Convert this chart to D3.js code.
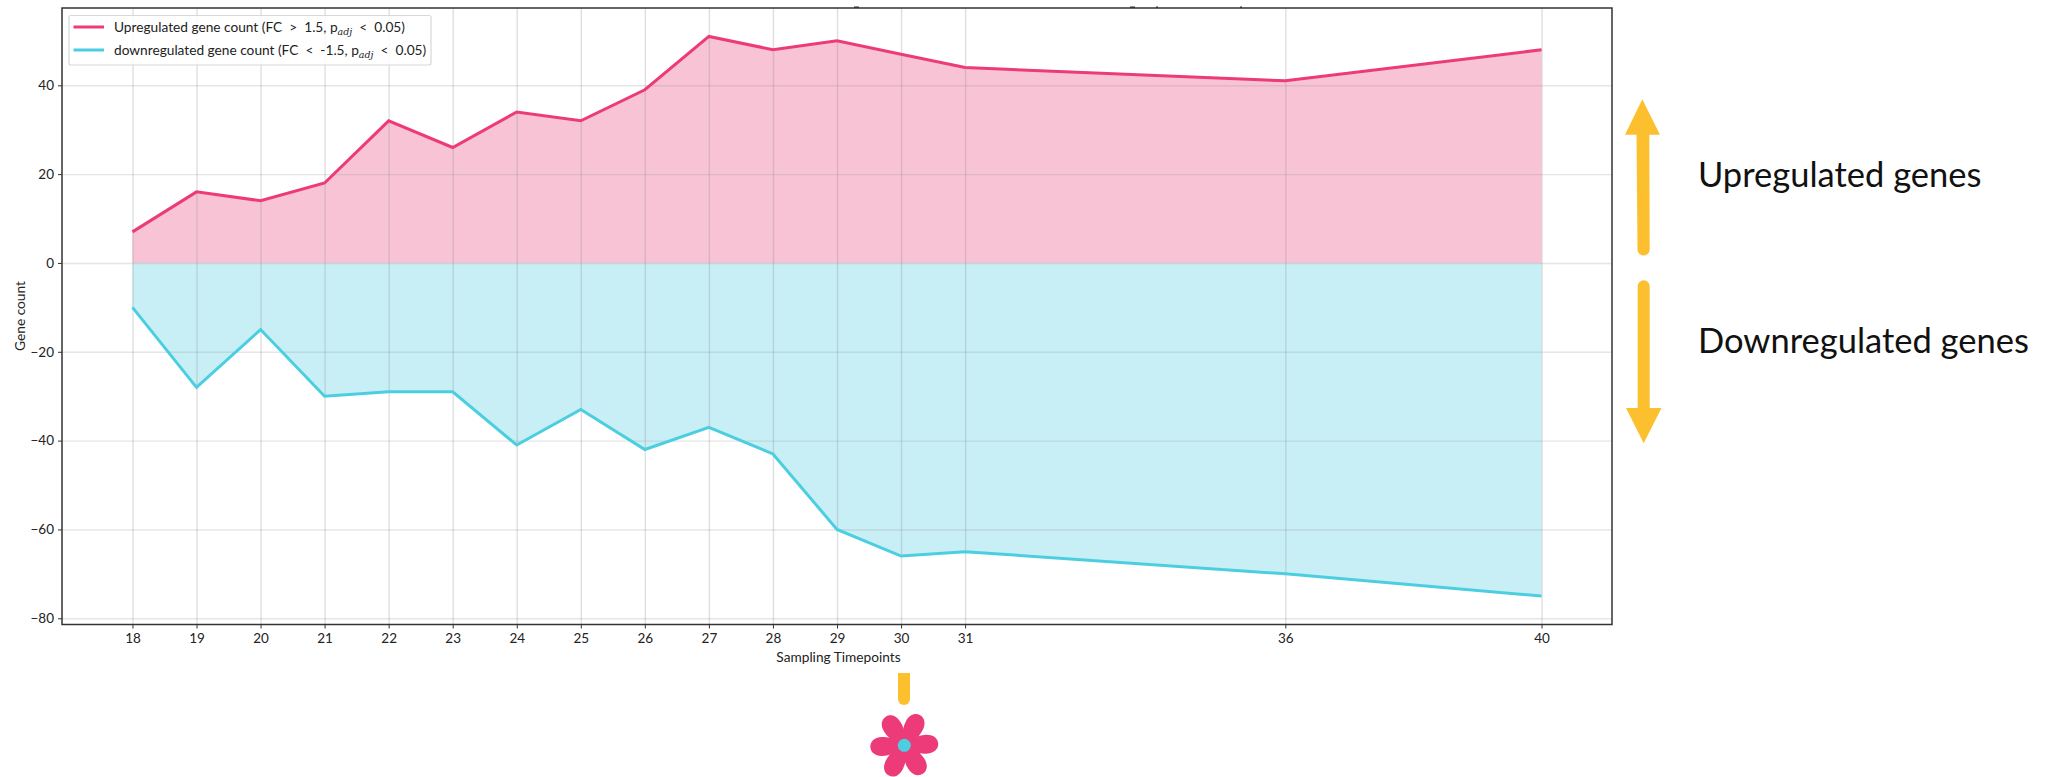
<!DOCTYPE html>
<html>
<head>
<meta charset="utf-8">
<style>
  html, body { margin: 0; padding: 0; background: #fff; }
  text { font-family: Lato, "Open Sans", sans-serif; fill: #222; }
</style>
<script src="https://d3js.org/d3.v7.min.js"></script>
</head>
<body>
<svg id="chart" width="2056" height="777"></svg>
<script>
// values
const timepoints = [18, 19, 20, 21, 22, 23, 24, 25, 26, 27, 28, 29, 30, 31, 36, 40];
const upregulated = [7, 16, 14, 18, 32, 26, 34, 32, 39, 51, 48, 50, 47, 44, 41, 48];
const downregulated = [-10, -28, -15, -30, -29, -29, -41, -33, -42, -37, -43, -60, -66, -65, -70, -75];
const yTicks = [40, 20, 0, -20, -40, -60, -80];

const pink = "#ec3b78", cyan = "#4bcfe0", amber = "#fcc02e";

const margin = {top: 8, left: 62},
    width = 1612 - 62,
    height = 624.5 - 8;

const svg = d3.select("#chart");
const g = svg.append("g").attr("transform", `translate(${margin.left}, ${margin.top})`);

const x = d3.scaleLinear().domain([16.9, 41.1]).range([0, width]);
const y = d3.scaleLinear().domain([57.4, -81.4]).range([0, height]);

// filled areas under the grid lines
const area = d3.area().x((d, i) => x(timepoints[i])).y0(y(0)).y1(d => y(d));
g.append("path").attr("d", area(upregulated)).attr("fill", "#f8c3d5");
g.append("path").attr("d", area(downregulated)).attr("fill", "#c8eff5");

// grid
g.append("g").attr("transform", `translate(0, ${height})`)
  .call(d3.axisBottom(x).tickValues(timepoints).tickSize(-height).tickFormat(""))
  .call(a => a.select(".domain").remove())
  .selectAll("line").attr("stroke", "#8c8c8c").attr("stroke-opacity", 0.28).attr("stroke-width", 1.4);
g.append("g")
  .call(d3.axisLeft(y).tickValues(yTicks).tickSize(-width).tickFormat(""))
  .call(a => a.select(".domain").remove())
  .selectAll("line").attr("stroke", "#8c8c8c").attr("stroke-opacity", 0.22).attr("stroke-width", 1.4);

// lines
const line = d3.line().x((d, i) => x(timepoints[i])).y(d => y(d));
g.append("path").attr("d", line(upregulated)).attr("fill", "none").attr("stroke", pink).attr("stroke-width", 3);
g.append("path").attr("d", line(downregulated)).attr("fill", "none").attr("stroke", cyan).attr("stroke-width", 3);

// axes
const xAxis = g.append("g").attr("transform", `translate(0, ${height})`)
  .call(d3.axisBottom(x).tickValues(timepoints).tickSize(4).tickPadding(5).tickFormat(d3.format("d")));
const yAxis = g.append("g")
  .call(d3.axisLeft(y).tickValues(yTicks).tickSize(4).tickPadding(4).tickFormat(d3.format("d")));
[xAxis, yAxis].forEach(a => {
  a.selectAll("text").attr("font-size", 13.5).style("font-family", "Lato");
  a.selectAll("line").attr("stroke", "#333");
  a.select(".domain").remove();
});
g.append("rect").attr("width", width).attr("height", height)
  .attr("fill", "none").attr("stroke", "#333").attr("stroke-width", 1.5);

// what is left of the cropped title above the frame
[[854, 5], [1130, 5], [1156, 2], [1240, 2]].forEach(m => {
  svg.append("rect").attr("x", m[0]).attr("y", 6.5).attr("width", m[1]).attr("height", 1.5).attr("fill", "#333");
});

// axis labels
svg.append("text").attr("x", 838.5).attr("y", 662).attr("text-anchor", "middle")
  .attr("font-size", 13.7).text("Sampling Timepoints");
svg.append("text").attr("transform", "translate(25, 316) rotate(-90)").attr("text-anchor", "middle")
  .attr("font-size", 13.7).text("Gene count");

// legend
const legend = svg.append("g");
legend.append("rect").attr("x", 69).attr("y", 15.5).attr("width", 362).attr("height", 49.5).attr("rx", 2)
  .attr("fill", "#fff").attr("fill-opacity", 0.8).attr("stroke", "#d8d8d8").attr("stroke-width", 1.2);
const legendRows = [
  {color: pink, y: 27, pre: "Upregulated gene count (FC  >  1.5, p", post: "  <  0.05)"},
  {color: cyan, y: 50, pre: "downregulated gene count (FC  <  -1.5, p", post: "  <  0.05)"}
];
legendRows.forEach(r => {
  legend.append("line").attr("x1", 73.5).attr("x2", 104).attr("y1", r.y).attr("y2", r.y)
    .attr("stroke", r.color).attr("stroke-width", 3);
  const t = legend.append("text").attr("x", 114).attr("y", r.y + 5).attr("font-size", 13.7)
    .attr("xml:space", "preserve").style("white-space", "pre");
  t.append("tspan").text(r.pre);
  t.append("tspan").attr("dy", 3).attr("font-size", 9.5).attr("font-style", "italic")
    .style("font-family", "DejaVu Serif").text("adj");
  t.append("tspan").attr("dy", -3).text(r.post);
});

// annotation arrows on the right
svg.append("path").attr("fill", amber)
  .attr("d", "M1642.3 99.3L1660 134.7L1649.3 134.7L1649.7 249.5A6 6 0 0 1 1637.5 249.5L1636.5 134.7L1625 134.7Z");
svg.append("path").attr("fill", amber)
  .attr("d", "M1637.7 286.3A6 6 0 0 1 1649.7 286.3L1649.7 408L1661.5 408L1643.7 443.3L1626 408L1637.7 408Z");
svg.append("text").attr("x", 1698).attr("y", 187).attr("font-size", 34.5).style("fill", "#111").text("Upregulated genes");
svg.append("text").attr("x", 1698).attr("y", 353).attr("font-size", 34.5).style("fill", "#111").text("Downregulated genes");

// flower under timepoint 30
svg.append("path").attr("fill", amber).attr("d", "M898 673L910 673L910 699A6 6 0 0 1 898 699Z");
const flower = svg.append("g").attr("transform", "translate(904.3, 745.3)");
[-3, 57, 117, 177, 237, 297].forEach(a => {
  flower.append("path").attr("transform", `rotate(${a})`).attr("fill", pink)
    .attr("d", "M0 0C6 -5 12 -9.5 22 -9.5C30 -9.5 34 -5 34 0C34 5 30 9.5 22 9.5C12 9.5 6 5 0 0Z");
});
flower.append("circle").attr("r", 6.5).attr("fill", cyan);
</script>
</body>
</html>
